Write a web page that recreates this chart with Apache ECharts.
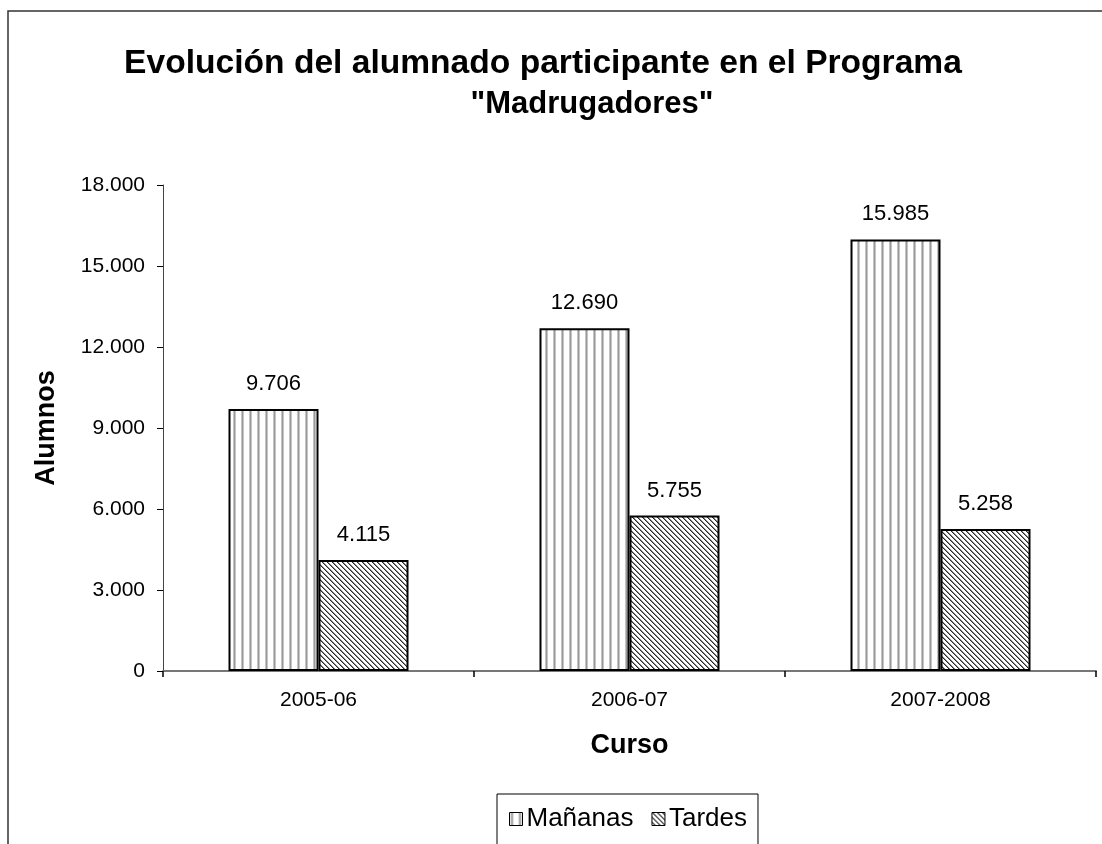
<!DOCTYPE html>
<html>
<head>
<meta charset="utf-8">
<script src="https://cdn.jsdelivr.net/npm/echarts@6/dist/echarts.min.js"></script>
<style>
  html, body { margin: 0; padding: 0; background: #fff; }
  #main { width: 1102px; height: 844px; }
</style>
</head>
<body>
<div id="main"></div>
<script>
// datos del gráfico
var cursos = ['2005-06', '2006-07', '2007-2008'];
var mananas = [9706, 12690, 15985];
var tardes = [4115, 5755, 5258];
var serieNombres = ['Mañanas', 'Tardes'];

var FONT = '"Liberation Sans", Arial, sans-serif';

// formato con punto de miles
function fmt(v) {
    return String(v).replace(/\B(?=(\d{3})+(?!\d))/g, '.');
}

// trama de rayas verticales
function rayasVerticales() {
    var c = document.createElement('canvas');
    c.width = 8; c.height = 8;
    var ctx = c.getContext('2d');
    ctx.fillStyle = '#fff';
    ctx.fillRect(0, 0, 8, 8);
    ctx.fillStyle = '#c4c4c4';
    ctx.fillRect(1, 0, 3, 8);
    ctx.fillStyle = '#9a9a9a';
    ctx.fillRect(2, 0, 1, 8);
    return c;
}

// trama diagonal
function rayasDiagonales() {
    var n = 5;
    var c = document.createElement('canvas');
    c.width = n; c.height = n;
    var ctx = c.getContext('2d');
    ctx.fillStyle = '#fff';
    ctx.fillRect(0, 0, n, n);
    for (var i = 0; i < n; i++) {
        ctx.fillStyle = '#2a2a2a';
        ctx.fillRect(i, i, 1, 1);
        ctx.fillStyle = '#8a8a8a';
        ctx.fillRect((i + 1) % n, i, 1, 1);
    }
    return c;
}

var chart = echarts.init(document.getElementById('main'));

var etiqueta = {
    show: true,
    position: 'top',
    distance: 14,
    fontFamily: FONT,
    fontSize: 22,
    color: '#000',
    formatter: function (p) { return fmt(p.value); }
};

var option = {
    backgroundColor: '#fff',
    animation: false,
    title: [{
        text: 'Evolución del alumnado participante en el Programa',
        left: 538,
        top: 42,
        textAlign: 'center',
        textStyle: { fontFamily: FONT, fontSize: 33.6, fontWeight: 'bold', color: '#000' }
    }, {
        text: '"Madrugadores"',
        left: 587,
        top: 84,
        textAlign: 'center',
        textStyle: { fontFamily: FONT, fontSize: 31, fontWeight: 'bold', color: '#000' }
    }],
    graphic: [{
        type: 'rect',
        shape: { x: 8, y: 11, width: 1120, height: 860 },
        style: { fill: 'none', stroke: '#333', lineWidth: 1.5 },
        silent: true
    }],
    legend: {
        data: serieNombres,
        left: 497,
        top: 794,
        orient: 'horizontal',
        icon: 'rect',
        itemWidth: 13,
        itemHeight: 13,
        itemGap: 18,
        padding: [12, 11, 40, 12],
        borderColor: '#000',
        borderWidth: 1,
        itemStyle: { borderWidth: 1, borderColor: '#000' },
        textStyle: { fontFamily: FONT, fontSize: 26, color: '#000', padding: [0, 0, 0, -1] }
    },
    grid: {
        left: 163,
        right: 6,
        top: 185,
        bottom: 173
    },
    xAxis: {
        type: 'category',
        data: cursos,
        name: 'Curso',
        nameLocation: 'middle',
        nameGap: 61,
        nameTextStyle: { fontFamily: FONT, fontSize: 27, fontWeight: 'bold', color: '#000' },
        axisLine: { lineStyle: { color: '#777', width: 2 } },
        axisTick: { show: true, length: 6, lineStyle: { color: '#000', width: 1.5 } },
        axisLabel: { fontFamily: FONT, fontSize: 21, color: '#000', margin: 19 }
    },
    yAxis: {
        type: 'value',
        min: 0,
        max: 18000,
        interval: 3000,
        name: 'Alumnos',
        nameLocation: 'middle',
        nameGap: 103,
        nameRotate: 90,
        nameTextStyle: { fontFamily: FONT, fontSize: 27, fontWeight: 'bold', color: '#000' },
        axisLine: { show: true, lineStyle: { color: '#444', width: 1 } },
        axisTick: { show: true, length: 6, lineStyle: { color: '#000', width: 1 } },
        splitLine: { show: false },
        axisLabel: {
            fontFamily: FONT, fontSize: 21, color: '#000', margin: 18,
            formatter: function (v) { return fmt(v); }
        }
    },
    series: [{
        name: serieNombres[0],
        type: 'bar',
        data: mananas,
        barWidth: 90,
        barGap: '0%',
        itemStyle: {
            color: { image: rayasVerticales(), repeat: 'repeat' },
            borderColor: '#000',
            borderWidth: 2
        },
        label: etiqueta
    }, {
        name: serieNombres[1],
        type: 'bar',
        data: tardes,
        barWidth: 90,
        itemStyle: {
            color: { image: rayasDiagonales(), repeat: 'repeat' },
            borderColor: '#000',
            borderWidth: 2
        },
        label: etiqueta
    }]
};

chart.setOption(option);
</script>
</body>
</html>
